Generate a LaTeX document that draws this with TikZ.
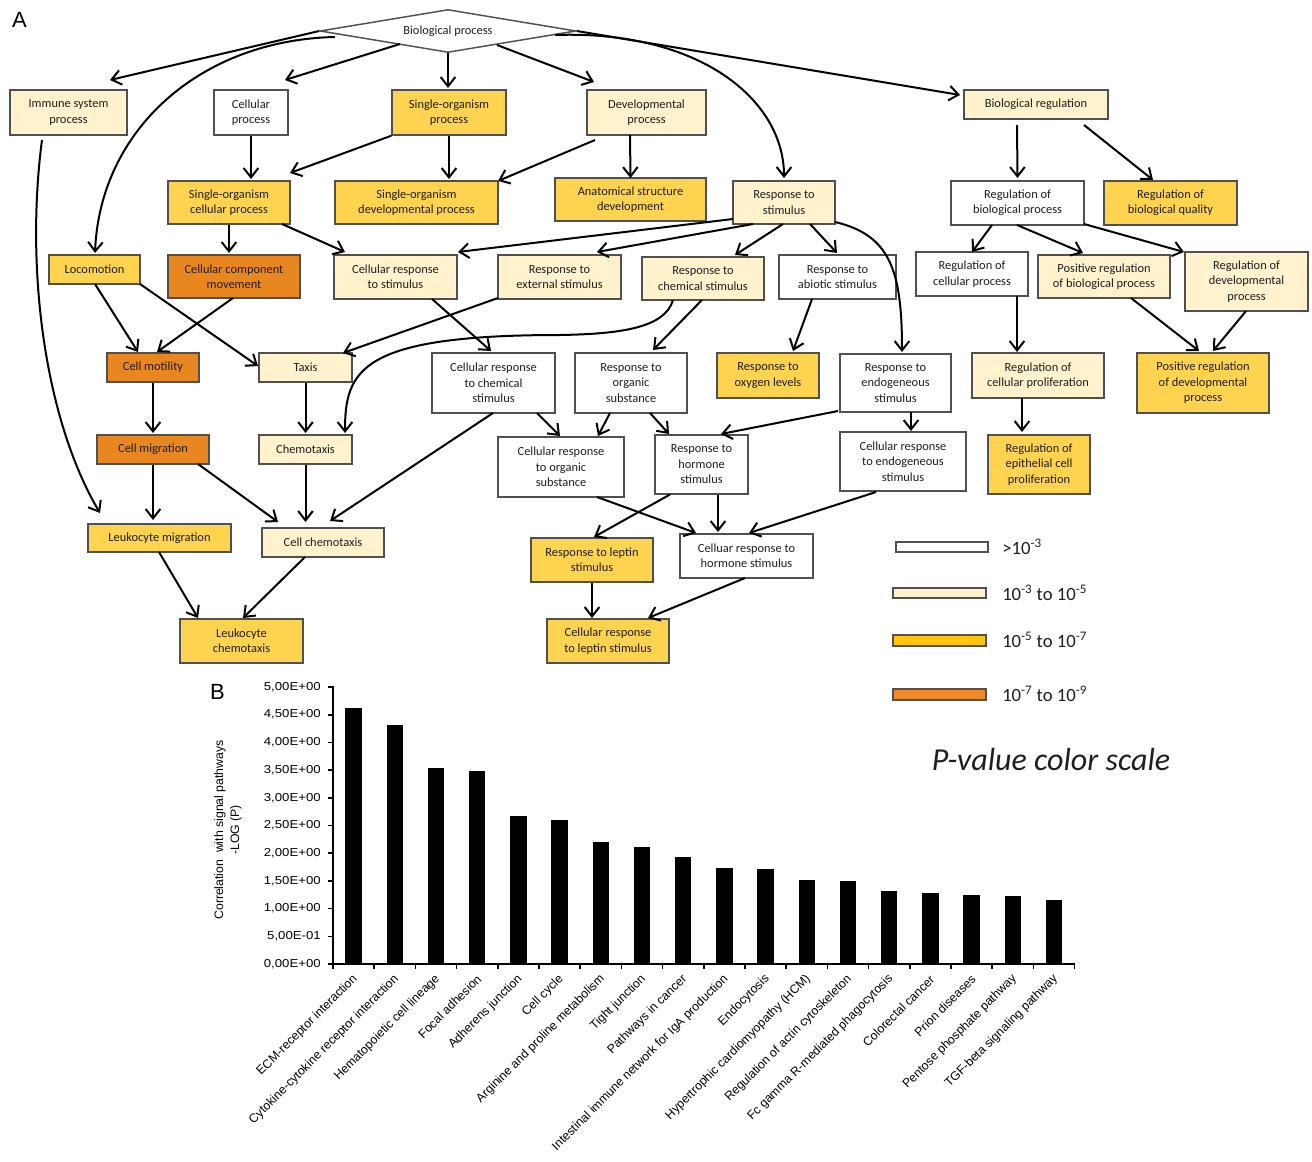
\documentclass[tikz,border=0pt]{standalone}
\usepackage{fontspec}
\usepackage{graphicx}
\setmainfont{Carlito}
\newfontfamily\arial{Liberation Sans}
\usetikzlibrary{arrows.meta,shapes.geometric}
\definecolor{cream}{HTML}{FFF2CC}
\definecolor{gold}{HTML}{FED350}
\definecolor{orng}{HTML}{E8861F}
\definecolor{lgold}{HTML}{FFC50F}
\definecolor{lorng}{HTML}{EE8A2A}
\definecolor{bordr}{HTML}{505050}
\definecolor{txt}{HTML}{1E1E1E}
\begin{document}
\begin{tikzpicture}[x=0.75pt,y=-0.75pt,
  box/.style={draw=bordr, line width=1.1pt, inner sep=0pt, align=center, text=txt, font=\fontsize{9.3}{11.6}\selectfont},
  sz/.style 2 args={minimum width=#1*0.75pt, minimum height=#2*0.75pt},
  wh/.style={box, fill=white}, cr/.style={box, fill=cream}, gd/.style={box, fill=gold}, og/.style={box, fill=orng},
  conn/.style={line width=1.5pt, -{Straight Barb[length=7pt,width=11pt]}},
  legbar/.style={draw=bordr, line width=1pt},
  legtxt/.style={anchor=west, inner sep=0pt, text=txt, font=\fontsize{14}{16}\selectfont},
  ticklab/.style={anchor=east, inner sep=0pt, font=\arial\fontsize{8.6}{10}\selectfont},
  barlab/.style={anchor=east, rotate=45, inner sep=0pt, font=\arial\fontsize{9.2}{11}\selectfont},
]
\useasboundingbox (0,0) rectangle (1312,1162);

% ---------- nodes ----------
\node[diamond, draw=bordr, line width=1.1pt, fill=white, aspect=6, inner sep=0pt,
      minimum width=256*0.75pt, minimum height=43*0.75pt, text=txt,
      font=\fontsize{9.3}{11.6}\selectfont] (bp) at (448,31) {Biological process};
\node[cr, sz={117}{45}] (imm) at (68.5,112.5) {Immune system\\process};
\node[wh, sz={74}{45}] (cel) at (251,112.5) {Cellular\\process};
\node[gd, sz={114}{45}] (sop) at (449,112.5) {Single-organism\\process};
\node[cr, sz={119}{45}] (dev) at (646.5,112.5) {Developmental\\process};
\node[cr, sz={144}{29}] (br) at (1036,104.5) {Biological regulation};
\node[gd, sz={122}{43}] (soc) at (229,202.5) {Single-organism\\cellular process};
\node[gd, sz={163}{43}] (sod) at (416.5,202.5) {Single-organism\\developmental process};
\node[gd, sz={151}{43}] (asd) at (630.5,199.5) {Anatomical structure\\development};
\node[cr, sz={102}{43}] (rs) at (784,202.5) {Response to\\stimulus};
\node[wh, sz={133}{44}] (rbp) at (1017.5,203) {Regulation of\\biological process};
\node[gd, sz={133}{44}] (rbq) at (1170.5,203) {Regulation of\\biological quality};
\node[gd, sz={91}{29}] (loc) at (94.5,269.5) {Locomotion};
\node[og, sz={132}{43}] (ccm) at (234,276.5) {Cellular component\\movement};
\node[cr, sz={123}{44}] (crs) at (395.5,277) {Cellular response\\to stimulus};
\node[cr, sz={123}{44}] (res) at (559.5,277) {Response to\\external stimulus};
\node[cr, sz={122}{43}] (rch) at (703,278.5) {Response to\\chemical stimulus};
\node[wh, sz={117}{44}] (rab) at (837.5,277) {Response to\\abiotic stimulus};
\node[wh, sz={112}{44}] (rcp) at (972,274) {Regulation of\\cellular process};
\node[cr, sz={132}{43}] (prbp) at (1104,276.5) {Positive regulation\\of biological process};
\node[cr, sz={123}{59}] (rdp) at (1246.5,281.5) {Regulation of\\developmental\\process};
\node[og, sz={92}{29}] (mot) at (153,367.5) {Cell motility};
\node[cr, sz={93}{29}] (tax) at (305.5,367.5) {Taxis};
\node[wh, sz={123}{60}] (crc) at (493.5,383) {Cellular response\\to chemical\\stimulus};
\node[wh, sz={112}{60}] (ros) at (631,383) {Response to\\organic\\substance};
\node[gd, sz={102}{45}] (rox) at (768,375.5) {Response to\\oxygen levels};
\node[wh, sz={111}{58}] (ren) at (895.5,383) {Response to\\endogeneous\\stimulus};
\node[cr, sz={132}{45}] (rpro) at (1038,375.5) {Regulation of\\cellular proliferation};
\node[gd, sz={132}{60}] (prdp) at (1203,383) {Positive regulation\\of developmental\\process};
\node[og, sz={112}{29}] (mig) at (153,449.5) {Cell migration};
\node[cr, sz={93}{29}] (chem) at (305.5,449.5) {Chemotaxis};
\node[wh, sz={126}{60}] (cro) at (561,467) {Cellular response\\to organic\\substance};
\node[wh, sz={93}{59}] (rhs) at (701.5,464.5) {Response to\\hormone\\stimulus};
\node[wh, sz={126}{59}] (cren) at (903,461.5) {Cellular response\\to endogeneous\\stimulus};
\node[gd, sz={102}{59}] (repi) at (1039,464.5) {Regulation of\\epithelial cell\\proliferation};
\node[gd, sz={143}{28}] (lmig) at (159.5,538) {Leukocyte migration};
\node[cr, sz={122}{29}] (cchem) at (323,542.5) {Cell chemotaxis};
\node[gd, sz={122}{44}] (rlep) at (592,560) {Response to leptin\\stimulus};
\node[wh, sz={133}{44}] (crh) at (746.5,556) {Celluar response to\\hormone stimulus};
\node[gd, sz={123}{44}] (lchem) at (241.5,641) {Leukocyte\\chemotaxis};
\node[gd, sz={122}{44}] (crl) at (608,641) {Cellular response\\to leptin stimulus};

% ---------- connectors ----------
\draw[conn] (bp.west) -- ([shift={(41.5,-32.5)}]imm.center);
\draw[conn] ([shift={(-113,6)}]bp.center) .. controls +(-135,3) and +(5,-123) .. ([shift={(0.5,-16.5)}]loc.center);
\draw[conn] ([shift={(-48,13)}]bp.center) -- ([shift={(34,-32.5)}]cel.center);
\draw[conn] (bp.south) -- ([shift={(-1,-24.5)}]sop.center);
\draw[conn] ([shift={(49,14)}]bp.center) -- ([shift={(-52.5,-30.5)}]dev.center);
\draw[conn] ([shift={(107,4)}]bp.center) .. controls +(145,-5) and +(0,-78) .. ([shift={(0,-24.5)}]rs.center);
\draw[conn] (bp.east) -- ([shift={(-76,-9.5)}]br.center);
\draw[conn] ([shift={(-26.5,27.5)}]imm.center) .. controls +(-17,130) and +(-55,-93) .. ([shift={(-59.5,-25)}]lmig.center);
\draw[conn] (cel.south) -- ([shift={(22,-23.5)}]soc.center);
\draw[conn] (sop.south west) -- ([shift={(61,-29.5)}]soc.center);
\draw[conn] (sop.south) -- ([shift={(32.5,-23.5)}]sod.center);
\draw[conn] ([shift={(-51.5,27.5)}]dev.center) -- ([shift={(81.5,-21.5)}]sod.center);
\draw[conn] ([shift={(-16.5,22.5)}]dev.center) -- ([shift={(0,-21.5)}]asd.center);
\draw[conn] (soc.south) -- ([shift={(-5,-23.5)}]ccm.center);
\draw[conn] ([shift={(53,21.5)}]soc.center) -- ([shift={(-50.5,-25)}]crs.center);
\draw[conn] ([shift={(-51,16.5)}]rs.center) -- ([shift={(62.5,-25)}]crs.center);
\draw[conn] ([shift={(-31,21.5)}]rs.center) -- ([shift={(37.5,-25)}]res.center);
\draw[conn] ([shift={(-1,21.5)}]rs.center) -- ([shift={(32,-23.5)}]rch.center);
\draw[conn] ([shift={(26,21.5)}]rs.center) -- ([shift={(-0.5,-24)}]rab.center);
\draw[conn] ([shift={(51,19.5)}]rs.center) .. controls +(55,13) and +(0,-82) .. ([shift={(6.5,-31)}]ren.center);
\draw[conn] ([shift={(15.5,29)}]ren.center) -- ([shift={(8,-30.5)}]cren.center);
\draw[conn] ([shift={(-25.5,22)}]rab.center) -- ([shift={(25,-24.5)}]rox.center);
\draw[conn] ([shift={(-19,20.5)}]br.center) -- ([shift={(0,-25)}]rbp.center);
\draw[conn] ([shift={(48,20.5)}]br.center) -- ([shift={(-17.5,-23)}]rbq.center);
\draw[conn] ([shift={(-25.5,22)}]rbp.center) -- ([shift={(0,-22)}]rcp.center);
\draw[conn] ([shift={(-0.5,22)}]rbp.center) -- ([shift={(-21,-23.5)}]prbp.center);
\draw[conn] ([shift={(66.5,21)}]rbp.center) -- ([shift={(-62.5,-29.5)}]rdp.center);
\draw[conn] ([shift={(45,22)}]rcp.center) -- ([shift={(-21,-23.5)}]rpro.center);
\draw[conn] ([shift={(27,21.5)}]prbp.center) -- ([shift={(-4,-32)}]prdp.center);
\draw[conn] ([shift={(-0.5,29.5)}]rdp.center) -- ([shift={(10,-32)}]prdp.center);
\draw[conn] ([shift={(-16,22.5)}]rpro.center) -- ([shift={(-17,-32.5)}]repi.center);
\draw[conn] ([shift={(0.5,14.5)}]loc.center) -- ([shift={(-15,-15.5)}]mot.center);
\draw[conn] ([shift={(45.5,14.5)}]loc.center) -- ([shift={(-47.5,-1.5)}]tax.center);
\draw[conn] ([shift={(-1,21.5)}]ccm.center) -- ([shift={(4,-15.5)}]mot.center);
\draw[conn] (mot.south) -- ([shift={(0,-16.5)}]mig.center);
\draw[conn] (mig.south) -- ([shift={(-6.5,-18)}]lmig.center);
\draw[conn] ([shift={(45,14.5)}]mig.center) -- ([shift={(-45,-20.5)}]cchem.center);
\draw[conn] (tax.south) -- ([shift={(0,-16.5)}]chem.center);
\draw[conn] (chem.south) -- ([shift={(-17.5,-20.5)}]cchem.center);
\draw[conn] ([shift={(-0.5,30)}]crc.center) -- ([shift={(7,-21.5)}]cchem.center);
\draw[conn] ([shift={(-0.5,14)}]lmig.center) -- ([shift={(-43.5,-23)}]lchem.center);
\draw[conn] ([shift={(-18,14.5)}]cchem.center) -- ([shift={(1.5,-23)}]lchem.center);
\draw[conn] ([shift={(-61.5,21)}]res.center) -- ([shift={(37.5,-14.5)}]tax.center);
\draw[conn] ([shift={(-30,21.5)}]rch.center) .. controls +(-8,28) and +(60,-1) .. (560,335)
            .. controls +(-200,0) and +(0,-63) .. ([shift={(39.5,-16.5)}]chem.center);
\draw[conn] ([shift={(36.5,22)}]crs.center) -- ([shift={(-2.5,-32)}]crc.center);
\draw[conn] ([shift={(-1,21.5)}]rch.center) -- ([shift={(22,-33)}]ros.center);
\draw[conn] ([shift={(43.5,30)}]crc.center) -- ([shift={(-1,-31)}]cro.center);
\draw[conn] ([shift={(-21,30)}]ros.center) -- ([shift={(37,-31)}]cro.center);
\draw[conn] ([shift={(19,30)}]ros.center) -- ([shift={(-32.5,-30.5)}]rhs.center);
\draw[conn] ([shift={(-57.5,28)}]ren.center) -- ([shift={(19.5,-30.5)}]rhs.center);
\draw[conn] ([shift={(-31.5,30)}]rhs.center) -- ([shift={(2,-23)}]rlep.center);
\draw[conn] ([shift={(36,30)}]cro.center) -- ([shift={(-50.5,-23)}]crh.center);
\draw[conn] ([shift={(16.5,30)}]rhs.center) -- ([shift={(-28.5,-24)}]crh.center);
\draw[conn] ([shift={(-27,30.5)}]cren.center) -- ([shift={(2.5,-23)}]crh.center);
\draw[conn] (rlep.south) -- ([shift={(-16,-23)}]crl.center);
\draw[conn] ([shift={(-1.5,22)}]crh.center) -- ([shift={(40,-23)}]crl.center);

% ---------- legend ----------
\draw[legbar, fill=white] (896,542) rectangle (988,552);
\draw[legbar, fill=cream] (893,588) rectangle (986,598);
\draw[legbar, fill=lgold] (893,635) rectangle (986,646);
\draw[legbar, fill=lorng] (893,689) rectangle (986,700);
\node[legtxt] (l1) at (1002,547) {>10\textsuperscript{-3}};
\node[legtxt] (l2) at (1002,593) {10\textsuperscript{-3} to 10\textsuperscript{-5}};
\node[legtxt] (l3) at (1002,640) {10\textsuperscript{-5} to 10\textsuperscript{-7}};
\node[legtxt] (l4) at (1002,694) {10\textsuperscript{-7} to 10\textsuperscript{-9}};
\node[text=txt, inner sep=0pt, font=\fontsize{24}{28}\selectfont\itshape] (pv) at (1051,760) {P-value color scale};

% ---------- panel labels ----------
\node[inner sep=0pt, font=\arial\fontsize{16.5}{18}\selectfont] (lA) at (19.5,20) {A};
\node[inner sep=0pt, font=\arial\fontsize{16.5}{18}\selectfont] (lB) at (217.5,691.5) {B};

% ---------- bar chart ----------
\foreach \v [count=\i from 0] in {4.62,4.31,3.54,3.48,2.67,2.60,2.21,2.12,1.94,1.74,1.72,1.52,1.49,1.31,1.29,1.25,1.22,1.16}
  \fill ({353.6+41.2*\i-8.2},964) rectangle ({353.6+41.2*\i+8.2},{964-55.4*\v});
\draw[line width=1.5pt] (333,686) -- (333,964) -- (1075,964);
\foreach \k in {0,...,18}
  \draw[line width=1.2pt] ({333+41.2*\k},964) -- ({333+41.2*\k},969);
\foreach \t [count=\j from 0] in {0,00E+00,5,00E-01,1,00E+00,1,50E+00,2,00E+00,2,50E+00,3,00E+00,3,50E+00,4,00E+00,4,50E+00,5,00E+00}
  {}
\foreach \t/\j in {{0,00E+00}/0,{5,00E-01}/1,{1,00E+00}/2,{1,50E+00}/3,{2,00E+00}/4,{2,50E+00}/5,{3,00E+00}/6,{3,50E+00}/7,{4,00E+00}/8,{4,50E+00}/9,{5,00E+00}/10}
  {\draw[line width=1.2pt] (328,{964-27.7*\j}) -- (333,{964-27.7*\j});
   \node[ticklab] at (321,{964-27.7*\j}) {\scalebox{1.15}[1]{\t}};}
\node[rotate=90, align=center, inner sep=0pt, font=\arial\fontsize{9.2}{12}\selectfont] (ytitle) at (228,830)
  {Correlation\ \ with signal pathways\\-LOG (P)};
\foreach \lab [count=\i from 0] in {ECM-receptor interaction,Cytokine-cytokine receptor interaction,Hematopoietic cell lineage,Focal adhesion,Adherens junction,Cell cycle,Arginine and proline metabolism,Tight junction,Pathways in cancer,Intestinal immune network for IgA production,Endocytosis,Hypertrophic cardiomyopathy (HCM),Regulation of actin cytoskeleton,Fc gamma R-mediated phagocytosis,Colorectal cancer,Prion diseases,Pentose phosphate pathway,TGF-beta signaling pathway}
  \node[barlab] at ({353.6+41.2*\i+2},977) {\lab};
\end{tikzpicture}
\end{document}
